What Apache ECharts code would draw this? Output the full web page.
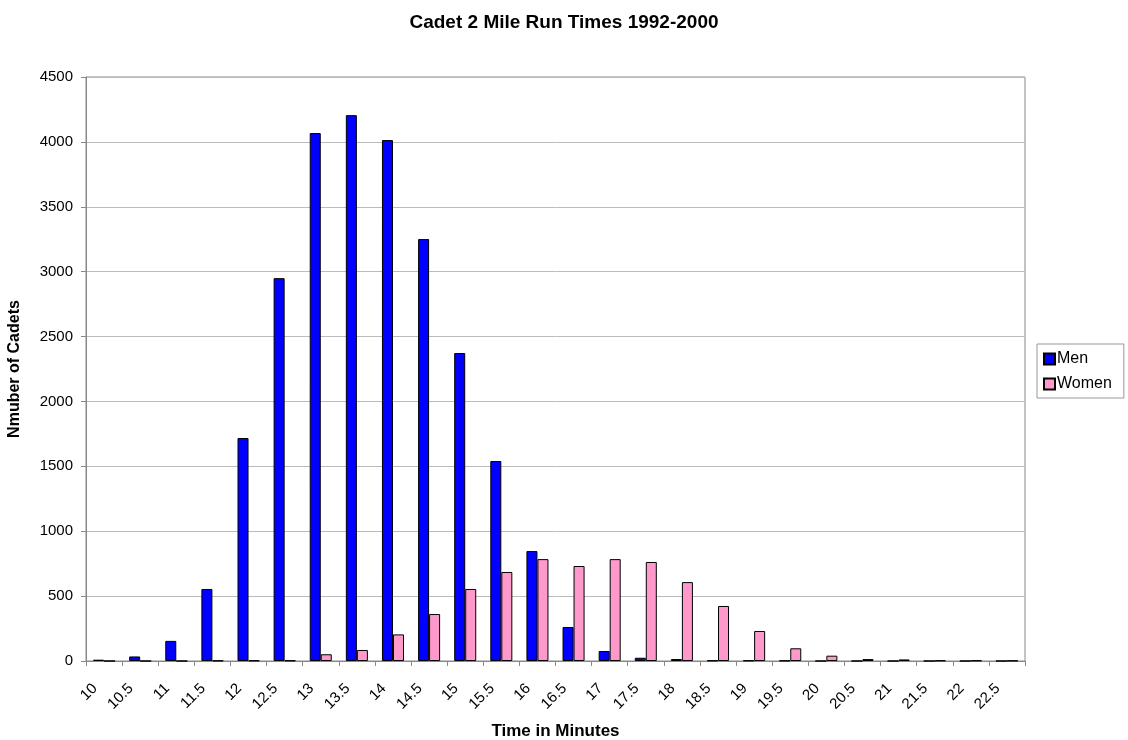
<!DOCTYPE html>
<html><head><meta charset="utf-8">
<script src="https://cdn.jsdelivr.net/npm/echarts@6/dist/echarts.min.js"></script>
<style>html,body{margin:0;padding:0;background:#fff}#c{width:1128px;height:740px}</style>
</head><body><div id="c"></div>
<script>
const categories = ['10','10.5','11','11.5','12','12.5','13','13.5','14','14.5','15','15.5','16','16.5','17','17.5','18','18.5','19','19.5','20','20.5','21','21.5','22','22.5'];
const men = [10,35,155,555,1718,2950,4068,4206,4014,3251,2373,1541,847,262,77,25,15,4,4,3,0,0,0,0,0,0];
const women = [0,0,0,3,4,4,52,85,205,362,555,686,785,732,785,763,608,424,231,98,41,15,12,4,4,3];
const yTicks = {min:0, max:4500, interval:500};
const F = 'Liberation Sans, Arial, sans-serif';
const chart = echarts.init(document.getElementById('c'), null, {renderer:'canvas'});
chart.setOption({
  animation:false,
  backgroundColor:'#fff',
  title:{text:'Cadet 2 Mile Run Times 1992-2000', left:559, top:8, textAlign:'center',
    textStyle:{fontFamily:F, fontSize:19, fontWeight:'bold', color:'#000'}},
  legend:{orient:'vertical', left:1037, top:344, itemWidth:11, itemHeight:11, itemGap:9,
    padding:[7,12,6,6], borderColor:'#999', borderWidth:1, backgroundColor:'#fff',
    textStyle:{fontFamily:F, fontSize:16, color:'#000', padding:[0,0,0,-3]},
    data:[{name:'Men', icon:'rect'},{name:'Women', icon:'rect'}]},
  grid:{left:86, right:103, top:77, bottom:79, show:true, borderColor:'#888', borderWidth:1, outerBoundsMode:'none', containLabel:false},
  xAxis:{type:'category', data:categories,
    name:'Time in Minutes', nameLocation:'middle', nameGap:62,
    nameTextStyle:{fontFamily:F, fontSize:17, fontWeight:'bold', color:'#000'},
    axisLine:{lineStyle:{color:'#888'}},
    axisTick:{show:true, alignWithLabel:false, length:5, lineStyle:{color:'#888'}},
    axisLabel:{rotate:45, fontFamily:F, fontSize:15, color:'#000', margin:16, interval:0, padding:[0,13,0,0]}},
  yAxis:{type:'value', min:yTicks.min, max:yTicks.max, interval:yTicks.interval,
    name:'Nmuber of Cadets', nameLocation:'middle', nameGap:63, nameRotate:90,
    nameTextStyle:{fontFamily:F, fontSize:16, fontWeight:'bold', color:'#000'},
    axisLine:{show:true, lineStyle:{color:'#888'}},
    axisTick:{show:true, length:5, lineStyle:{color:'#888'}},
    splitLine:{lineStyle:{color:'#bbb'}},
    axisLabel:{fontFamily:F, fontSize:15, color:'#000', margin:13, formatter:v=>String(v)}},
  series:[
    {name:'Men', type:'bar', data:men, barGap:'0%', barCategoryGap:'39%',
      itemStyle:{color:'#0000FF', borderColor:'#000', borderWidth:1}},
    {name:'Women', type:'bar', data:women, barGap:'0%', barCategoryGap:'39%',
      itemStyle:{color:'#FF99CC', borderColor:'#000', borderWidth:1}}
  ]
});
</script></body></html>
